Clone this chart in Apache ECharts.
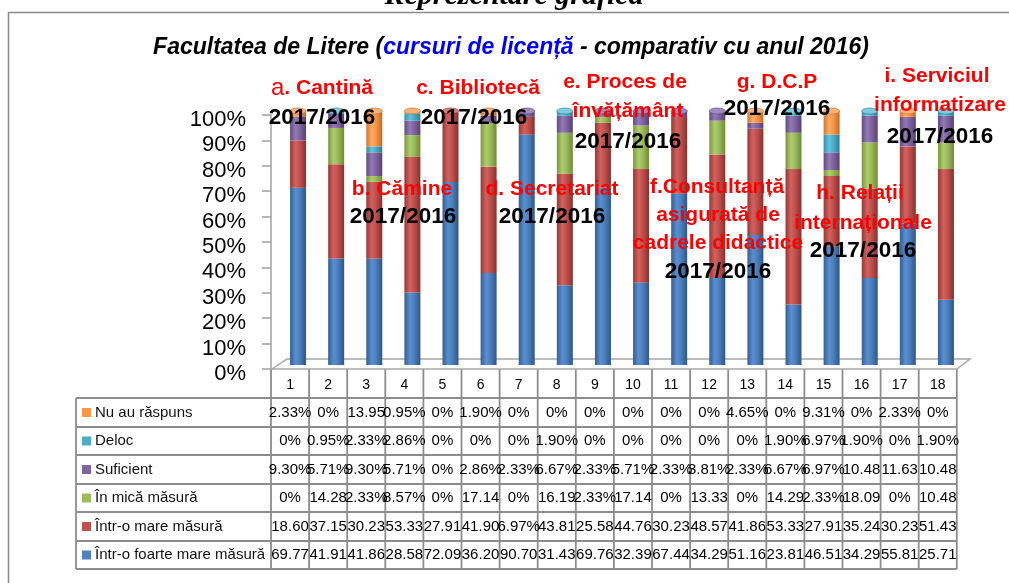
<!DOCTYPE html>
<html><head><meta charset="utf-8">
<script src="https://cdn.jsdelivr.net/npm/echarts@6/dist/echarts.min.js"></script>
<style>html,body{margin:0;padding:0;background:#fff}#c{width:1009px;height:583px}</style>
</head><body><div id="c"></div>
<script>
// ---- data ----
const categories = ['1','2','3','4','5','6','7','8','9','10','11','12','13','14','15','16','17','18'];
const yTicks = [0,10,20,30,40,50,60,70,80,90,100];
const veryLarge   = [69.77,41.91,41.86,28.58,72.09,36.20,90.70,31.43,69.76,32.39,67.44,34.29,51.16,23.81,46.51,34.29,55.81,25.71];
const largeExtent = [18.60,37.15,30.23,53.33,27.91,41.90,6.97,43.81,25.58,44.76,30.23,48.57,41.86,53.33,27.91,35.24,30.23,51.43];
const smallExtent = [0,14.28,2.33,8.57,0,17.14,0,16.19,2.33,17.14,0,13.33,0,14.29,2.33,18.09,0,10.48];
const sufficient  = [9.30,5.71,9.30,5.71,0,2.86,2.33,6.67,2.33,5.71,2.33,3.81,2.33,6.67,6.97,10.48,11.63,10.48];
const notAtAll    = [0,0.95,2.33,2.86,0,0,0,1.90,0,0,0,0,0,1.90,6.97,1.90,0,1.90];
const noAnswer    = [2.33,0,13.95,0.95,0,1.90,0,0,0,0,0,0,4.65,0,9.31,0,2.33,0];
const seriesNames = ['Într-o foarte mare măsură','Într-o mare măsură','În mică măsură','Suficient','Deloc','Nu au răspuns'];

// ---- styling ----
const flat = ['#4F81BD','#C0504D','#9BBB59','#8064A2','#4BACC6','#F79646'];
const capCol = ['#7aa3d6','#d9807c','#b9d48a','#a08bc0','#7fcbe0','#f9b27a'];
const grads = [
  ['#345f92','#5a8fd0','#4d80bf','#2f5686'],
  ['#963835','#d2625e','#c0504d','#88312e'],
  ['#7a9741','#afcc6e','#9bbb59','#6f8b39'],
  ['#614a80','#937ab4','#8064a2','#574274'],
  ['#358ea6','#63c3dc','#4bacc6','#2d7e95'],
  ['#cf782f','#fcab66','#f79646','#c26c27']
];
function grad(g){return new echarts.graphic.LinearGradient(0,0,1,0,[{offset:0,color:g[0]},{offset:0.35,color:g[1]},{offset:0.6,color:g[2]},{offset:1,color:g[3]}]);}
const values = [veryLarge,largeExtent,smallExtent,sufficient,notAtAll,noAnswer];
const topIdx = categories.map((c,i)=>{ let k=0; values.forEach((arr,j)=>{ if(arr[i]>0) k=j; }); return k; });

const FONT = '"Liberation Sans", Arial, sans-serif';
const chart = echarts.init(document.getElementById('c'));

// table geometry
const TL = 76, CL = 271, CW = 38.1, HY = 369;
const RY = [398,427,455,484,512,541,569];
const lineCol = '#8c8c8c';
const g = [];
// frame
g.push({type:'rect', shape:{x:8.5,y:12.5,width:1012,height:600}, style:{fill:null, stroke:'#8a8a8a', lineWidth:1.5}, z:0});
// top title (cut)
g.push({type:'text', x:514, y:-4, style:{text:'Reprezentare grafică', font:'italic bold 30px "Liberation Serif", "Times New Roman", serif', fill:'#000', align:'center', verticalAlign:'middle'}});
// chart title
g.push({type:'text', x:511, y:48, style:{text:'{a|Facultatea de Litere (}{b|cursuri de licență}{a| - comparativ cu anul 2016)}', align:'center', verticalAlign:'middle',
  rich:{a:{font:'italic bold 23px '+FONT, fill:'#000'}, b:{font:'italic bold 23px '+FONT, fill:'#0000ff'}}}});
// floor
g.push({type:'polygon', shape:{points:[[272,369],[287,359],[970,359],[957,369]]}, style:{fill:'#ffffff', stroke:'#a6a6a6', lineWidth:1.5}, z:1});
// table lines
for (let i=0;i<=18;i++){
  const x = CL + i*CW;
  g.push({type:'line', shape:{x1:x,y1:HY,x2:x,y2:RY[6]}, style:{stroke:lineCol, lineWidth:1.8}});
}
g.push({type:'line', shape:{x1:TL,y1:RY[0],x2:TL,y2:RY[6]}, style:{stroke:lineCol, lineWidth:1.8}});
for (let j=0;j<RY.length;j++){
  g.push({type:'line', shape:{x1:TL,y1:RY[j],x2:CL+18*CW,y2:RY[j]}, style:{stroke:lineCol, lineWidth:1.8}});
}
// header numbers
categories.forEach((c,i)=>{
  g.push({type:'text', x:CL+(i+0.5)*CW, y:(HY+RY[0])/2+2, style:{text:c, font:'14px '+FONT, fill:'#000', align:'center', verticalAlign:'middle'}});
});
function fmt(v){ if (v===0) return '0%'; if (v>=10) return v.toFixed(2); return v.toFixed(2)+'%'; }
for (let r=0;r<6;r++){
  const si = 5-r;
  const ym = (RY[r]+RY[r+1])/2;
  g.push({type:'rect', shape:{x:82,y:ym-4.5,width:9,height:9}, style:{fill:flat[si]}});
  g.push({type:'text', x:95, y:ym, style:{text:seriesNames[si], font:'15px '+FONT, fill:'#111', align:'left', verticalAlign:'middle'}});
  values[si].forEach((v,i)=>{
    g.push({type:'text', x:CL+(i+0.5)*CW, y:ym, style:{text:fmt(v), font:'15px '+FONT, fill:'#000', align:'center', verticalAlign:'middle'}});
  });
}
// annotations
function red(t,x,y){g.push({type:'text', x:x, y:y, z:10, style:{text:t, font:'bold 21px '+FONT, fill:'#ff0000', align:'center', verticalAlign:'middle'}});}
function blk(t,x,y){g.push({type:'text', x:x, y:y, z:10, style:{text:t, font:'bold 22.5px '+FONT, fill:'#000', align:'center', verticalAlign:'middle'}});}
g.push({type:'text', x:322, y:88, z:10, style:{text:'{r|a}{b|. Cantină}', align:'center', verticalAlign:'middle',
  rich:{r:{font:'24px '+FONT, fill:'#ff0000'}, b:{font:'bold 21px '+FONT, fill:'#ff0000'}}}});
blk('2017/2016',322,118);
red('c. Bibliotecă',478,88); blk('2017/2016',474,118);
red('e. Proces de',625,82); red('învățământ',628,111); blk('2017/2016',628,142);
red('g. D.C.P',777,82); blk('2017/2016',777,109);
red('i. Serviciul',937,76); red('informatizare',940,105); blk('2017/2016',940,137);
red('b. Cămine',402,189); blk('2017/2016',403,217);
red('d. Secretariat',552,189); blk('2017/2016',552,217);
red('f.Consultanță',717,187); red('asigurată de',718,215); red('cadrele didactice',718,243); blk('2017/2016',718,272);
red('h. Relații',860,193); red('internaționale',863,223); blk('2017/2016',863,251);

const series = seriesNames.map((n,k)=>({
  name:n, type:'bar', stack:'all', barWidth:16, xAxisIndex:0, yAxisIndex:0,
  itemStyle:{color:grad(grads[k])}, data:values[k], z:3
}));
series.push({
  type:'custom', xAxisIndex:0, yAxisIndex:0, z:4, silent:true,
  data: categories.map((c,i)=>[i,100]),
  renderItem:(params, api)=>{
    const i = api.value(0);
    const p = api.coord([i, api.value(1)]);
    const k = topIdx[i];
    return {type:'ellipse', shape:{cx:p[0], cy:p[1], rx:8, ry:3}, style:{fill:capCol[k], stroke:grads[k][3], lineWidth:0.6}};
  }
});

chart.setOption({
  animation:false,
  backgroundColor:'#fff',
  grid:[
    {left:279, right:44, top:111, bottom:218},
    {left:271, right:52, top:115, bottom:214}
  ],
  xAxis:[
    {type:'category', gridIndex:0, data:categories, show:false},
    {type:'category', gridIndex:1, data:categories, show:false}
  ],
  yAxis:[
    {type:'value', gridIndex:0, min:0, max:100, interval:10, show:false},
    {type:'value', gridIndex:1, min:0, max:100, interval:10,
     axisLine:{show:true, lineStyle:{color:'#a0a0a0', width:1.5}},
     axisTick:{show:true, length:9, lineStyle:{color:'#a0a0a0', width:1.5}},
     splitLine:{show:false},
     axisLabel:{formatter:'{value}%', fontFamily:FONT, fontSize:22, color:'#000', margin:25, verticalAlign:'top', lineHeight:10}}
  ],
  series: series,
  graphic: g
});
</script></body></html>
